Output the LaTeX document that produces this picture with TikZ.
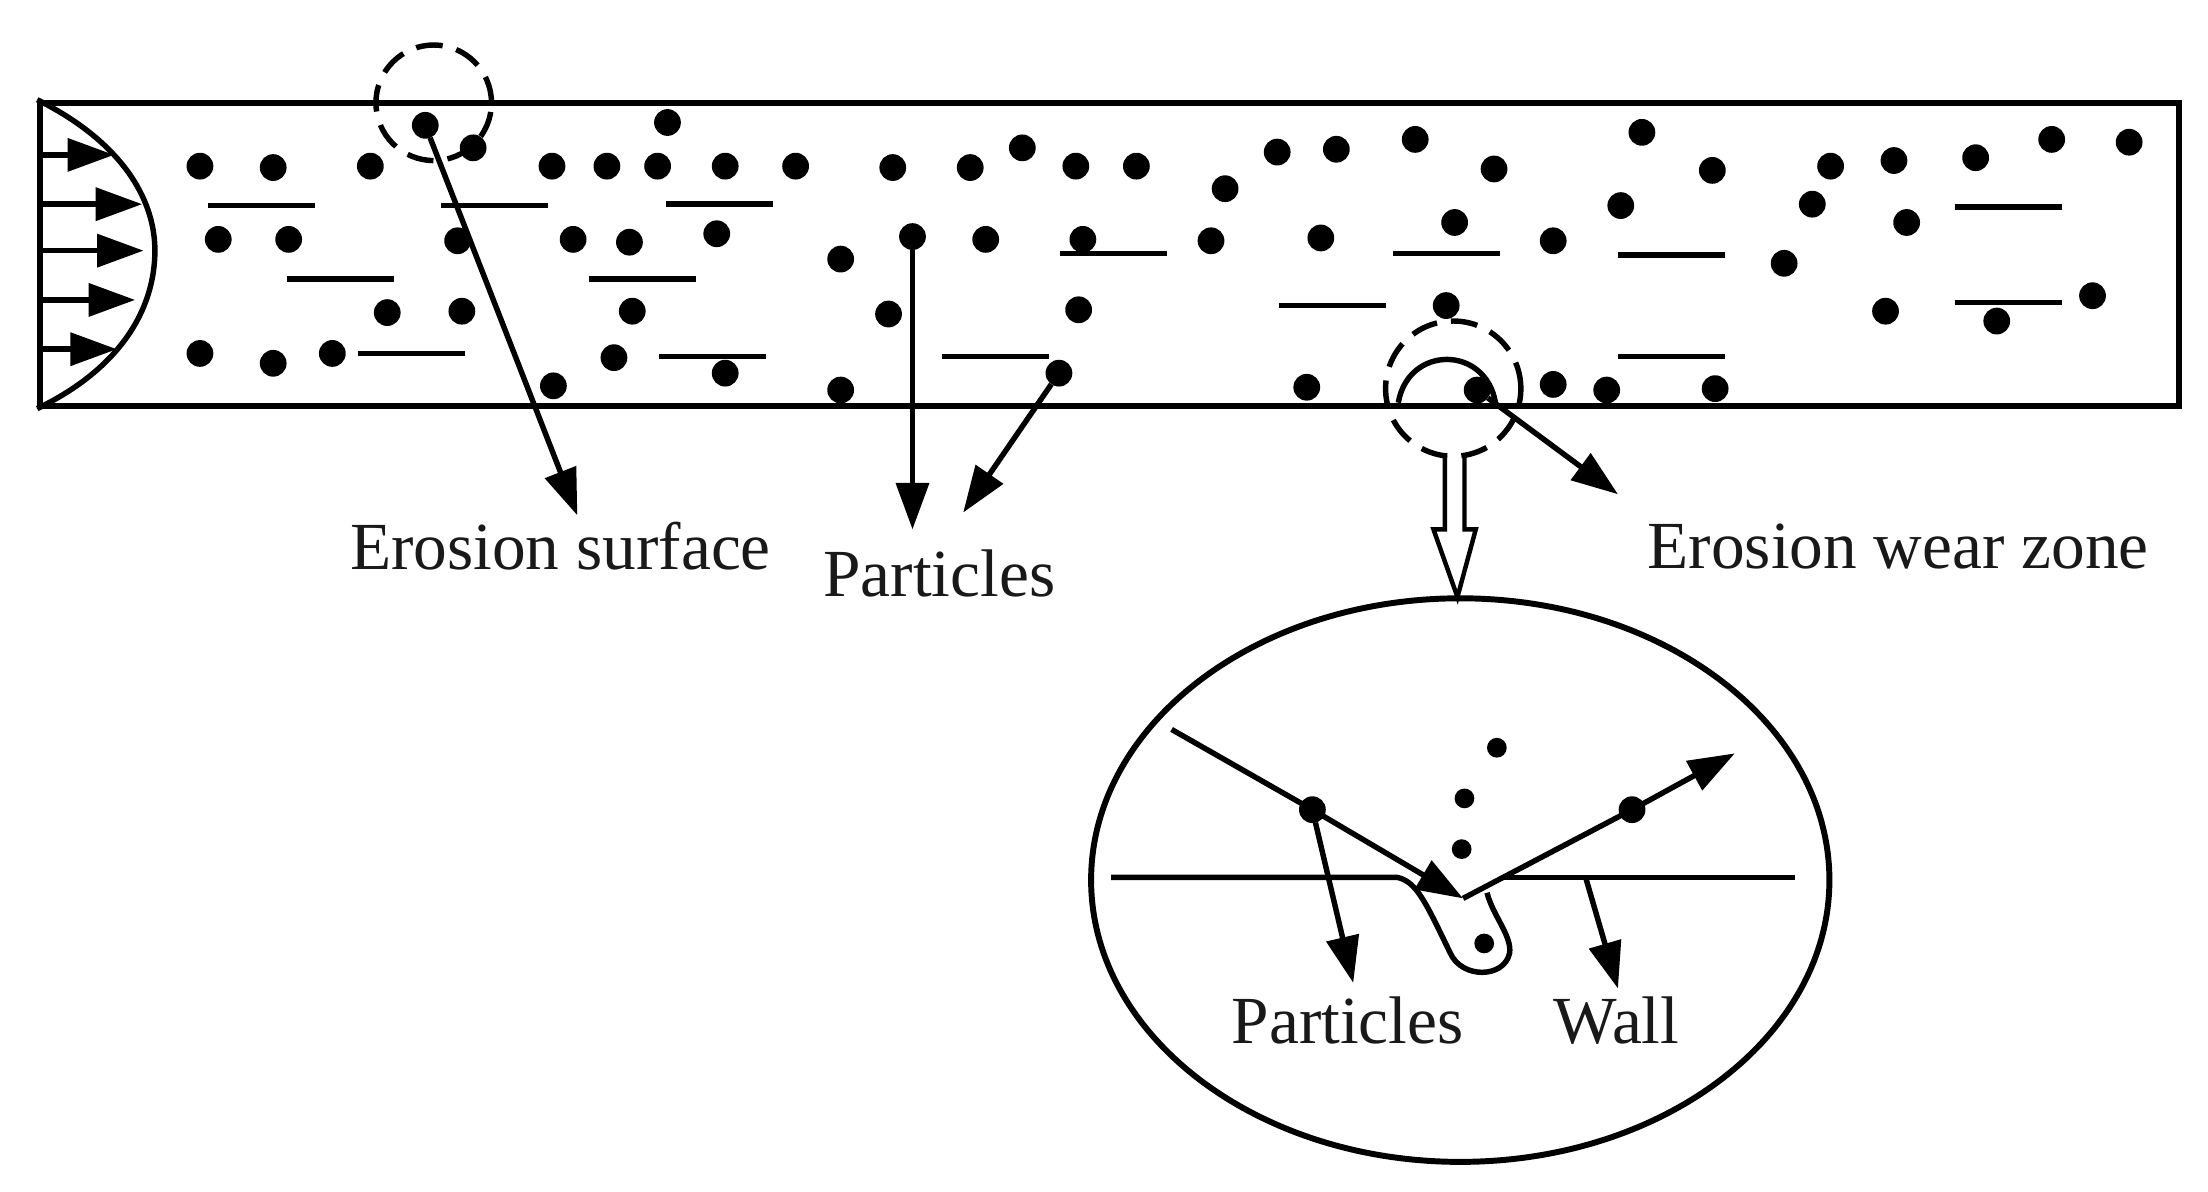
\documentclass[tikz,border=0pt]{standalone}
\usepackage{fontspec}
\setmainfont{Liberation Serif}
\usetikzlibrary{arrows.meta,shapes.geometric}
\tikzset{
    dot/.style={draw=none,fill=black,circle,inner sep=0pt,outer sep=0pt,minimum size=0.19cm},
    smalldot/.style={draw=none,fill=black,circle,inner sep=0pt,outer sep=0pt,minimum size=0.14cm},
    zone/.style={draw,circle,dash pattern=on 0.19cm off 0.1cm,line width=1.1pt,inner sep=0pt},
    bar/.style={line width=1.1pt},
    pointer/.style={line width=1.1pt,-{Triangle[length=0.33cm,width=0.23cm]}},
    label_text/.style={inner sep=0pt,font=\fontsize{13.6}{16}\selectfont,text=black!90}
}
\begin{document}
\begin{tikzpicture}[x=0.01cm,y=-0.01cm,line width=1.1pt]
    \useasboundingbox (0,0) rectangle (1568,846);
    \node[draw,rectangle,minimum width=15.18cm,minimum height=2.15cm,inner sep=0pt,line width=1.2pt] (pipe) at (788,180.5) {};

    % velocity profile
    \draw (pipe.north west) .. controls (85,100) and (110,140) .. (110,178)
          .. controls (110,220) and (85,262) .. (pipe.south west);
    \foreach \y/\x [count=\i] in {110/81,145/101,178/102,213/96,248/83} {
        \coordinate (in_\i) at (29,\y);
        \coordinate (tip_\i) at (\x,\y);
        \draw[pointer] (in_\i) -- (tip_\i);
    }

    % particles in the pipe
    \foreach \x/\y [count=\i] in {142/118,194/119,263/118,336/105,392/118,431/118,467/118,474/87,515/118,565/118,
            634/119,689/119,726/105,764/118,807/118,870/134,907/108,949/106,1005/99,1061/120,1166/94,1216/121,
            1300/118,1345/114,1403/112,1457/99,1512/101,155/170,205/170,325/171,407/170,447/172,509/166,597/184,
            700/170,769/170,860/171,938/169,1033/158,1103/171,1151/146,1287/145,1354/158,1267/187,275/222,328/221,
            449/221,631/223,766/220,1027/217,1339/221,1418/228,1486/210,142/251,194/258,236/251,393/274,436/254,
            515/265,597/277,928/275,1103/273,1141/277,1218/276} {
        \node[dot] (p_\i) at (\x,\y) {};
    }
    \node[dot] (p_surface) at (302,89) {};
    \node[dot] (p_fall) at (648,168) {};
    \node[dot] (p_wall) at (752,265) {};
    \node[dot] (p_wear) at (1049,277) {};

    % short strokes
    \foreach \x/\y in {148/146,313/146,473/145,204/198,418/198,254/251,468/253,669/253,753/180,989/180,1149/181,
            908/217,1149/253,1388/147,1388/215} {
        \draw[bar] (\x,\y) -- ++(76,0);
    }

    \node[zone,minimum size=0.82cm] (zone_a) at (308,73) {};
    \node[zone,minimum size=0.96cm] (zone_b) at (1032,276) {};
    \draw (993,286) .. controls (1000,245) and (1055,245) .. (1062,286);

    \node[label_text] (label_1) at (398,388) {Erosion surface};
    \node[label_text] (label_2) at (667,407) {Particles};
    \node[label_text] (label_3) at (1348,388) {Erosion wear zone};
    \node[label_text] (label_4) at (957,725) {Particles};
    \node[label_text] (label_5) at (1148,725) {Wall};

    \coordinate (end_1) at (410,366);
    \coordinate (end_2) at (648,376);
    \coordinate (end_3) at (684,364);
    \coordinate (end_4) at (1149,351);
    \draw[pointer] (p_surface) -- (end_1);
    \draw[pointer] (p_fall) -- (end_2);
    \draw[pointer] (p_wall) -- (end_3);
    \draw[pointer] (p_wear) -- (end_4);

    % enlarged view
    \node[draw,ellipse,minimum width=5.24cm,minimum height=4cm,inner sep=0pt,outer sep=0pt,line width=1.2pt] (detail) at (1037,625) {};
    \draw[line width=0.9pt] (1026,324) -- (1026,376) -- (1018,376) -- (1035,424) -- (1048,376) -- (1040,376) -- (1040,324);

    \coordinate (wall_a) at (789,623);
    \coordinate (wall_b) at (992,623);
    \coordinate (wall_c) at (1066,623);
    \coordinate (wall_d) at (1275,623);
    \coordinate (hit) at (1039,638);
    \coordinate (in_start) at (832,518);
    \coordinate (out_end) at (1232,535);
    \draw (wall_a) -- (wall_b) .. controls (1006,626) and (1012,640) .. (1030,677)
          .. controls (1038,695) and (1068,695) .. (1072,677)
          .. controls (1074,665) and (1060,650) .. (1056,634);
    \draw (wall_c) -- (wall_d);

    \node[dot] (p_in) at (932,575) {};
    \node[dot] (p_out) at (1159,575) {};
    \node[smalldot] (p_a) at (1063,531) {};
    \node[smalldot] (p_b) at (1040,567) {};
    \node[smalldot] (p_c) at (1038,603) {};
    \node[smalldot] (p_d) at (1054,670) {};

    \draw[pointer] (in_start) -- (p_in.center) -- (hit);
    \draw[pointer] (hit) -- (p_out.center) -- (out_end);

    \coordinate (wall_root) at (1126,623);
    \coordinate (end_5) at (961,698);
    \coordinate (end_6) at (1149,702);
    \draw[pointer] (p_in) -- (end_5);
    \draw[pointer] (wall_root) -- (end_6);
\end{tikzpicture}
\end{document}
